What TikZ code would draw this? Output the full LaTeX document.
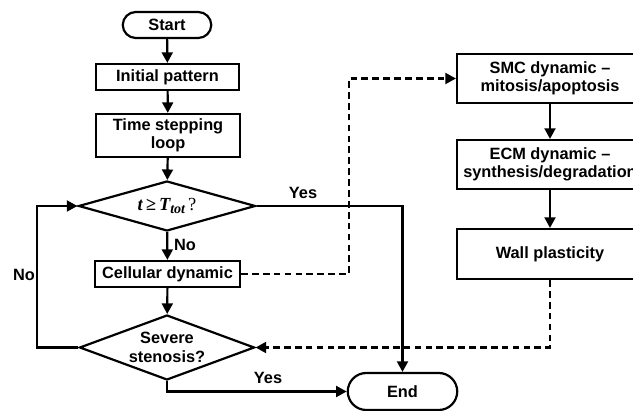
\documentclass[tikz,border=0pt]{standalone}
\usepackage{fontspec}
\setmainfont{Liberation Sans}
\newfontfamily\serifq{Liberation Serif}
\usetikzlibrary{arrows.meta,shapes.geometric,shapes.misc}
\newcommand{\condtext}{{\fontsize{10.5pt}{12pt}\selectfont\serifq\bfseries\itshape t\,≥\,T\raisebox{-0.35ex}{\fontsize{8pt}{9pt}\selectfont tot}\,\mdseries\upshape ?}}
\tikzset{
  every node/.style={font=\fontsize{9.3pt}{10.4pt}\selectfont\bfseries},
  box/.style={draw,line width=1.25pt,rectangle,align=center,inner sep=1pt},
  term/.style={draw,line width=1.25pt,rounded rectangle,inner sep=1pt},
  dec/.style={draw,line width=1.25pt,diamond,align=center,inner sep=0pt},
  arr/.style={line width=1.25pt,-{Triangle[length=6pt,width=6.2pt]}},
  dsh/.style={arr,dash pattern=on 3.8pt off 2.4pt},
  lbl/.style={inner sep=0pt}
}
\begin{document}
\begin{tikzpicture}[x=0.02cm,y=-0.02cm]
\clip (0,0) rectangle (633,411);
\useasboundingbox (0,0) rectangle (633,411);
\node[term,minimum width=1.84cm,minimum height=0.52cm] (start) at (167,25) {Start};
\node[box,minimum width=2.86cm,minimum height=0.52cm] (init) at (167.5,77) {Initial pattern};
\node[box,minimum width=2.88cm,minimum height=0.86cm] (time) at (168,135.5) {Time stepping\\loop};
\node[dec,minimum width=3.54cm,minimum height=1cm,aspect=3.5] (d1) at (167,206) {\condtext};
\node[box,minimum width=2.9cm,minimum height=0.52cm] (cell) at (167.5,274) {Cellular dynamic};
\node[dec,minimum width=3.5cm,minimum height=1.3cm,aspect=2.7] (d2) at (167,347.5) {Severe\\stenosis?};
\node[term,minimum width=2.26cm,minimum height=0.74cm] (end) at (402.5,391.5) {End};
\node[box,minimum width=3.72cm,minimum height=0.98cm] (smc) at (550,78.5) {SMC dynamic --\\mitosis/apoptosis};
\node[box,minimum width=3.72cm,minimum height=0.98cm] (ecm) at (550,164.5) {ECM dynamic --\\synthesis/degradation};
\node[box,minimum width=3.72cm,minimum height=1cm] (wall) at (550,254) {Wall plasticity};
\coordinate (lx) at (37,347);
\coordinate (cx) at (349,274);
\draw[arr] (start) -- (init);
\draw[arr] (init) -- (time);
\draw[arr] (time) -- (d1);
\draw[arr] (d1) -- (cell);
\draw[arr] (cell) -- (d2);
\draw[arr] (d2.west) -- (d2.west -| lx) |- (d1.west);
\draw[arr] (d1.east) -| (end.north);
\draw[arr] (d2.south) |- (end.west);
\draw[dsh] (cell.east) -- (cell.east -| cx) |- (smc.west);
\draw[arr] (smc) -- (ecm);
\draw[arr] (ecm) -- (wall);
\draw[dsh] (wall.south) |- (d2.east);
\node[lbl] (no1) at (185,245) {No};
\node[lbl] (no2) at (24,275) {No};
\node[lbl] (yes1) at (303,193) {Yes};
\node[lbl] (yes2) at (268,378) {Yes};
\end{tikzpicture}
\end{document}
